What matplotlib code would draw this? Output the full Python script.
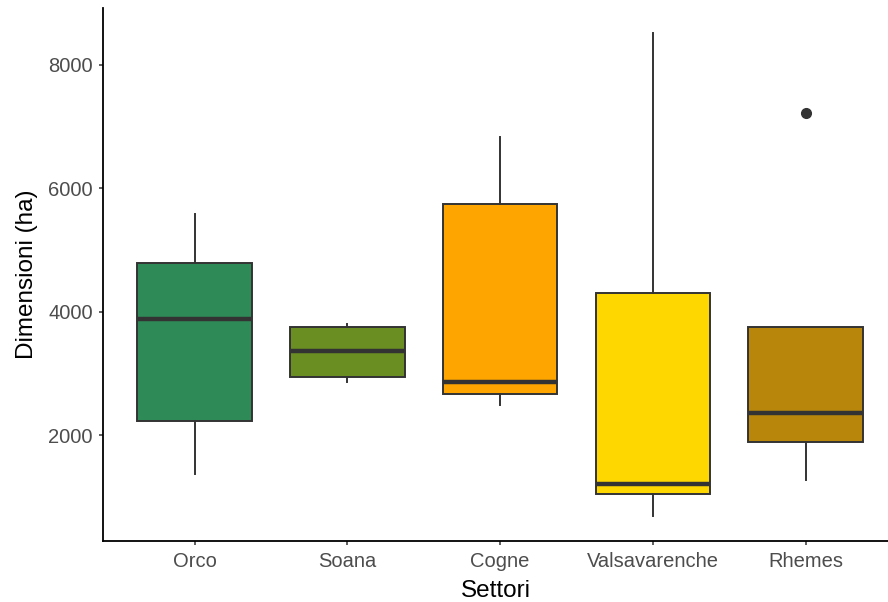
import matplotlib
matplotlib.use("Agg")
import matplotlib.pyplot as plt

categories = ["Orco", "Soana", "Cogne", "Valsavarenche", "Rhemes"]
whisker_low = [1370, 2860, 2490, 690, 1270]
q1 = [2230, 2940, 2665, 1045, 1890]
median = [3880, 3360, 2860, 1205, 2355]
q3 = [4790, 3752, 5750, 4305, 3752]
whisker_high = [5585, 3800, 6830, 8520, 3752]
outliers = [[], [], [], [], [7220]]
colors = ["#2E8B57", "#6B8E23", "#FFA500", "#FFD700", "#B8860B"]
yticks = [2000, 4000, 6000, 8000]

plt.rcParams['font.family'] = ['Liberation Sans', 'DejaVu Sans']
fig = plt.figure(figsize=(8.88, 6.02), dpi=100)
ax = fig.add_axes([0.116, 0.101, 0.884, 0.886])

stats = []
for i, c in enumerate(categories):
    stats.append(dict(label=c, whislo=whisker_low[i], q1=q1[i], med=median[i],
                      q3=q3[i], whishi=whisker_high[i], fliers=outliers[i]))

pos = list(range(1, len(categories) + 1))
bp = ax.bxp(stats, positions=pos, widths=0.75, patch_artist=True, showcaps=False,
            boxprops=dict(edgecolor="#333333", linewidth=1.4),
            whiskerprops=dict(color="#333333", linewidth=1.4),
            medianprops=dict(color="#333333", linewidth=3.2, solid_capstyle='butt'),
            flierprops=dict(marker='o', markerfacecolor="#333333", markeredgecolor="#333333",
                            markersize=7))
for patch, col in zip(bp['boxes'], colors):
    patch.set_facecolor(col)

ax.set_xlim(0.4, 5.54)
ax.set_ylim(281, 8926)
ax.set_yticks(yticks)
ax.set_yticklabels([str(t) for t in yticks])
ax.set_xticks(pos)
ax.set_xticklabels(categories)

for s in ['top', 'right']:
    ax.spines[s].set_visible(False)
for s in ['left', 'bottom']:
    ax.spines[s].set_linewidth(1.3)
    ax.spines[s].set_color('black')
ax.tick_params(axis='both', colors='#333333', labelcolor='#4D4D4D', labelsize=14.5,
               length=2.9, width=1.1)
ax.tick_params(axis='x', pad=5)
ax.tick_params(axis='y', pad=4.5)

ax.set_xlabel("Settori", fontsize=17.5, color='black', labelpad=6)
ax.set_ylabel("Dimensioni (ha)", fontsize=17.5, color='black', labelpad=7)

fig.savefig("out.png", dpi=100)
